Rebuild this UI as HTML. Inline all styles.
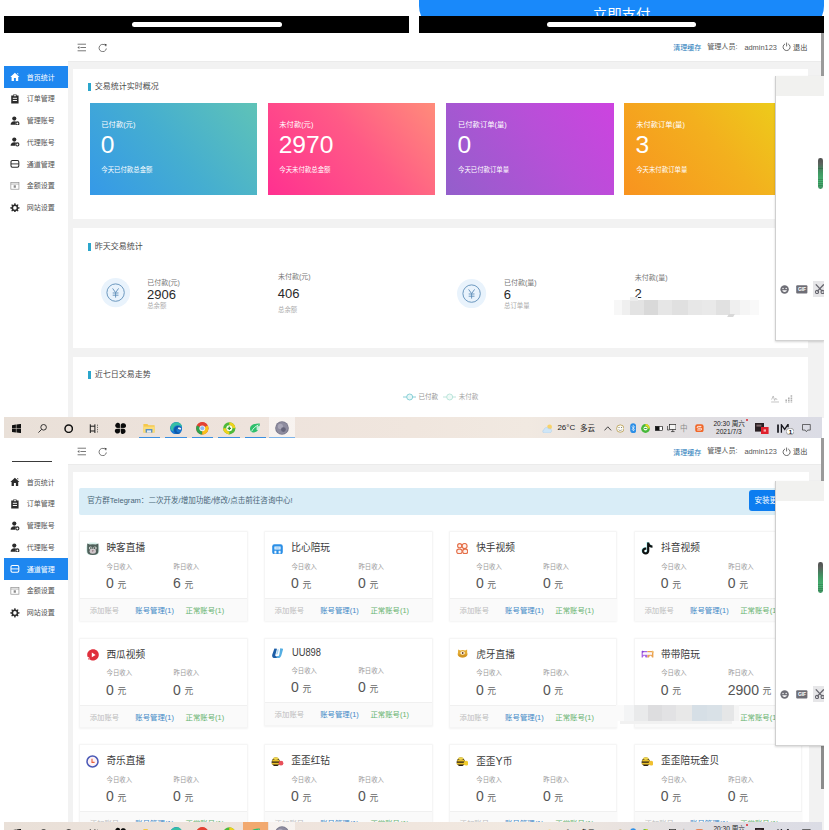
<!DOCTYPE html>
<html><head><meta charset="utf-8"><title>dashboard</title>
<style>
*{margin:0;padding:0;box-sizing:border-box}
html,body{width:829px;height:830px;overflow:hidden;background:#fff}
body{position:relative;font-family:"Liberation Sans","Noto Sans CJK SC",sans-serif;color:#333}
.a{position:absolute}
.t{position:absolute;white-space:nowrap;line-height:1}
</style></head><body>
<div class="a" style="left:419.00px;top:-10.00px;width:405.00px;height:40.00px;background:#1989fa;border-radius:0 0 24px 24px"></div>
<div class="t" style="left:592.80px;top:7.60px;font-size:14.4px;color:#fff;">立即支付</div>
<div class="a" style="left:4.00px;top:16.40px;width:405.00px;height:16.40px;background:#000;"></div>
<div class="a" style="left:419.00px;top:16.40px;width:405.00px;height:16.40px;background:#000;"></div>
<div class="a" style="left:132.00px;top:22.30px;width:150.00px;height:4.60px;background:#fff;border-radius:3px"></div>
<div class="a" style="left:547.00px;top:22.30px;width:149.00px;height:4.60px;background:#fff;border-radius:3px"></div>
<div class="a" style="left:4.00px;top:32.80px;width:820.00px;height:385.00px;background:#f2f2f2;"></div>
<div class="a" style="left:4.00px;top:32.80px;width:820.00px;height:28.80px;background:#fff;"></div>
<div class="a" style="left:68.00px;top:60.60px;width:756.00px;height:1.00px;background:#ebebeb;"></div>
<svg class="a" style="left:76.80px;top:42.70px;" width="9.4" height="9" viewBox="0 0 9.4 9"><path d="M0.6 1.2h8.4M3.4 4.5h5.6M0.6 7.8h8.4" stroke="#6a6a6a" stroke-width="0.9"/><path d="M0.4 4.5l2-1.4v2.8z" fill="#6a6a6a"/></svg>
<svg class="a" style="left:98.40px;top:42.50px;" width="9.4" height="9.4" viewBox="0 0 10 10"><path d="M8.3 3.2A3.9 3.9 0 1 0 8.9 5.8" fill="none" stroke="#6a6a6a" stroke-width="0.95"/><path d="M6.6 0.9l2.6 0.3-0.5 2.5z" fill="#444"/></svg>
<div class="t" style="left:673.20px;top:44.00px;font-size:7px;color:#2a7dbb;">清理缓存</div>
<div class="t" style="left:707.20px;top:43.70px;font-size:7.1px;color:#555;">管理人员:</div>
<div class="t" style="left:744.40px;top:43.60px;font-size:7.4px;color:#555;">admin123</div>
<svg class="a" style="left:781.60px;top:42.40px;" width="9.2" height="9.2" viewBox="0 0 10 10"><path d="M3.3 2.1A3.8 3.8 0 1 0 6.7 2.1" fill="none" stroke="#444" stroke-width="0.85"/><path d="M5 0.6v4.2" stroke="#444" stroke-width="0.85"/></svg>
<div class="t" style="left:793.00px;top:43.80px;font-size:7.2px;color:#444;">退出</div>
<div class="a" style="left:4.00px;top:61.60px;width:64.00px;height:356.00px;background:#fff;"></div>
<div class="a" style="left:4.00px;top:66.00px;width:64.00px;height:21.75px;background:#1e87f0;"></div>
<svg class="a" style="left:10.30px;top:72.20px;" width="9.8" height="9.8" viewBox="0 0 16 16"><path d="M8 1.2 L0.6 8 H2.6 V14.6 H6.4 V10 H9.6 V14.6 H13.4 V8 H15.4 Z M11.6 2 h1.8 v2.6 l-1.8 -1.6z" fill="#fff"/></svg>
<div class="t" style="left:26.80px;top:73.60px;font-size:7px;color:#fff;">首页统计</div>
<svg class="a" style="left:10.30px;top:93.95px;" width="9.8" height="9.8" viewBox="0 0 16 16"><path d="M2 2.6 H5.2 V1 H10.8 V2.6 H14 V15.4 H2 Z" fill="#2b2b2b"/><path d="M4.6 7 h6.8 M4.6 10.6 h6.8" stroke="#fff" stroke-width="1.6"/><rect x="6.2" y="2" width="3.6" height="1.6" fill="#fff"/></svg>
<div class="t" style="left:26.80px;top:95.35px;font-size:7px;color:#525252;">订单管理</div>
<svg class="a" style="left:10.30px;top:115.70px;" width="9.8" height="9.8" viewBox="0 0 16 16"><circle cx="7" cy="4.200" r="3.400" fill="#2b2b2b"/><path d="M1 14.400C1 10.400 3.400 8.400 7 8.400 8.600 8.400 9.800 8.800 10.400 9.600 8.600 10.400 8 12.400 8.800 14.400Z" fill="#2b2b2b"/><circle cx="12" cy="12.200" r="2.500" fill="none" stroke="#2b2b2b" stroke-width="1.900"/></svg>
<div class="t" style="left:26.80px;top:117.10px;font-size:7px;color:#525252;">管理账号</div>
<svg class="a" style="left:10.30px;top:137.45px;" width="9.8" height="9.8" viewBox="0 0 16 16"><circle cx="7" cy="4.200" r="3.400" fill="#2b2b2b"/><path d="M1 14.400C1 10.400 3.400 8.400 7 8.400 8.600 8.400 9.800 8.800 10.400 9.600 8.600 10.400 8 12.400 8.800 14.400Z" fill="#2b2b2b"/><circle cx="12" cy="12.200" r="2.500" fill="none" stroke="#2b2b2b" stroke-width="1.900"/></svg>
<div class="t" style="left:26.80px;top:138.85px;font-size:7px;color:#525252;">代理账号</div>
<svg class="a" style="left:10.30px;top:159.20px;" width="9.8" height="9.8" viewBox="0 0 16 16"><rect x="1.6" y="2.6" width="12.8" height="10.8" rx="2.2" fill="none" stroke="#2b2b2b" stroke-width="1.7"/><path d="M1.6 8 h12.8" stroke="#2b2b2b" stroke-width="1.5"/></svg>
<div class="t" style="left:26.80px;top:160.60px;font-size:7px;color:#525252;">通道管理</div>
<svg class="a" style="left:10.30px;top:180.95px;" width="9.8" height="9.8" viewBox="0 0 16 16"><rect x="1.4" y="2.6" width="13.2" height="10.8" fill="none" stroke="#8c8c8c" stroke-width="1.1"/><path d="M1.4 5 h13.2" stroke="#8c8c8c" stroke-width="1"/><rect x="6" y="7" width="3.6" height="4" fill="#8c8c8c"/></svg>
<div class="t" style="left:26.80px;top:182.35px;font-size:7px;color:#525252;">金额设置</div>
<svg class="a" style="left:10.30px;top:202.70px;" width="9.8" height="9.8" viewBox="0 0 16 16"><path d="M15.54 7.01 L15.54 8.99 L13.46 9.24 L12.74 10.98 L14.03 12.63 L12.63 14.03 L10.98 12.74 L9.24 13.46 L8.99 15.54 L7.01 15.54 L6.76 13.46 L5.02 12.74 L3.37 14.03 L1.97 12.63 L3.26 10.98 L2.54 9.24 L0.46 8.99 L0.46 7.01 L2.54 6.76 L3.26 5.02 L1.97 3.37 L3.37 1.97 L5.02 3.26 L6.76 2.54 L7.01 0.46 L8.99 0.46 L9.24 2.54 L10.98 3.26 L12.63 1.97 L14.03 3.37 L12.74 5.02 L13.46 6.76Z" fill="#2b2b2b"/><circle cx="8" cy="8" r="2.9" fill="#fff"/></svg>
<div class="t" style="left:26.80px;top:204.10px;font-size:7px;color:#525252;">网站设置</div>
<div class="a" style="left:73.00px;top:68.50px;width:735.00px;height:150.50px;background:#fff;"></div>
<div class="a" style="left:73.00px;top:227.50px;width:735.00px;height:120.80px;background:#fff;"></div>
<div class="a" style="left:73.00px;top:357.00px;width:735.00px;height:61.00px;background:#fff;"></div>
<div class="a" style="left:88.10px;top:82.80px;width:2.70px;height:8.00px;background:#2ba6cc;"></div>
<div class="t" style="left:94.70px;top:82.60px;font-size:8px;color:#4a4a4a;">交易统计实时概况</div>
<div class="a" style="left:88.10px;top:243.00px;width:2.70px;height:8.00px;background:#2ba6cc;"></div>
<div class="t" style="left:94.70px;top:242.80px;font-size:8px;color:#4a4a4a;">昨天交易统计</div>
<div class="a" style="left:88.10px;top:371.20px;width:2.70px;height:8.00px;background:#2ba6cc;"></div>
<div class="t" style="left:94.70px;top:371.00px;font-size:8px;color:#4a4a4a;">近七日交易走势</div>
<div class="a" style="left:89.50px;top:102.50px;width:167.50px;height:92.80px;background:linear-gradient(50deg,#3599e8 0%,#45aed0 50%,#5fc3b7 100%);"></div>
<div class="t" style="left:101.30px;top:120.80px;font-size:7.3px;color:#fff;">已付款(元)</div>
<div class="t" style="left:100.70px;top:132.90px;font-size:24.6px;color:#fff;">0</div>
<div class="t" style="left:101.30px;top:166.60px;font-size:6.4px;color:#fff;">今天已付款总金额</div>
<div class="a" style="left:267.50px;top:102.50px;width:167.50px;height:92.80px;background:linear-gradient(50deg,#ff3090 0%,#ff5a86 55%,#ff8c7a 100%);"></div>
<div class="t" style="left:279.30px;top:120.80px;font-size:7.3px;color:#fff;">未付款(元)</div>
<div class="t" style="left:278.70px;top:132.90px;font-size:24.6px;color:#fff;">2970</div>
<div class="t" style="left:279.30px;top:166.60px;font-size:6.4px;color:#fff;">今天未付款总金额</div>
<div class="a" style="left:446.20px;top:102.50px;width:167.50px;height:92.80px;background:linear-gradient(55deg,#935fcb 0%,#b84fd8 60%,#cd43e0 100%);"></div>
<div class="t" style="left:458.00px;top:120.80px;font-size:7.3px;color:#fff;">已付款订单(量)</div>
<div class="t" style="left:457.40px;top:132.90px;font-size:24.6px;color:#fff;">0</div>
<div class="t" style="left:458.00px;top:166.60px;font-size:6.4px;color:#fff;">今天已付款订单量</div>
<div class="a" style="left:624.40px;top:102.50px;width:167.50px;height:92.80px;background:linear-gradient(50deg,#f8931f 0%,#f3b01e 55%,#ecd01a 100%);"></div>
<div class="t" style="left:636.20px;top:120.80px;font-size:7.3px;color:#fff;">未付款订单(量)</div>
<div class="t" style="left:635.60px;top:132.90px;font-size:24.6px;color:#fff;">3</div>
<div class="t" style="left:636.20px;top:166.60px;font-size:6.4px;color:#fff;">今天未付款订单量</div>
<svg class="a" style="left:101.10px;top:278.40px;" width="29.2" height="29.2" viewBox="0 0 29.2 29.2"><circle cx="14.6" cy="14.6" r="14.6" fill="#e9f3fc"/><circle cx="14.6" cy="14.6" r="8.7" fill="none" stroke="#5d8db8" stroke-width="0.9"/><path d="M11.6 10.4l3 4.2 3-4.2M14.6 14.6v5M11.7 15h5.8M11.7 17.2h5.8" fill="none" stroke="#5d8db8" stroke-width="0.9"/></svg>
<div class="t" style="left:147.20px;top:279.20px;font-size:7px;color:#777;">已付款(元)</div>
<div class="t" style="left:147.00px;top:287.60px;font-size:13px;color:#2a2a2a;">2906</div>
<div class="t" style="left:147.20px;top:303.20px;font-size:6.4px;color:#aaa;">总余额</div>
<div class="t" style="left:278.00px;top:273.30px;font-size:7px;color:#777;">未付款(元)</div>
<div class="t" style="left:277.80px;top:286.80px;font-size:13px;color:#2a2a2a;">406</div>
<div class="t" style="left:278.00px;top:307.20px;font-size:6.4px;color:#aaa;">总余额</div>
<svg class="a" style="left:457.40px;top:278.60px;" width="29.2" height="29.2" viewBox="0 0 29.2 29.2"><circle cx="14.6" cy="14.6" r="14.6" fill="#e9f3fc"/><circle cx="14.6" cy="14.6" r="8.7" fill="none" stroke="#5d8db8" stroke-width="0.9"/><path d="M11.6 10.4l3 4.2 3-4.2M14.6 14.6v5M11.7 15h5.8M11.7 17.2h5.8" fill="none" stroke="#5d8db8" stroke-width="0.9"/></svg>
<div class="t" style="left:504.00px;top:279.40px;font-size:7px;color:#777;">已付款(量)</div>
<div class="t" style="left:503.80px;top:287.60px;font-size:13px;color:#2a2a2a;">6</div>
<div class="t" style="left:504.00px;top:303.00px;font-size:6.4px;color:#aaa;">总订单量</div>
<div class="t" style="left:634.80px;top:274.40px;font-size:7px;color:#777;">未付款(量)</div>
<div class="t" style="left:634.60px;top:287.20px;font-size:13px;color:#2a2a2a;">2</div>
<svg class="a" style="left:402.60px;top:393.30px;" width="13.4" height="8" viewBox="0 0 13.4 8"><path d="M0 4h13.4" stroke="#7ecbd3" stroke-width="0.9"/><circle cx="6.7" cy="4" r="3" fill="#e6f7f7" stroke="#7ecbd3" stroke-width="0.9"/></svg>
<div class="t" style="left:418.40px;top:393.90px;font-size:6.5px;color:#959595;">已付款</div>
<svg class="a" style="left:443.00px;top:393.30px;" width="13.4" height="8" viewBox="0 0 13.4 8"><path d="M0 4h13.4" stroke="#b5e2d8" stroke-width="0.9"/><circle cx="6.7" cy="4" r="3" fill="#f0faf7" stroke="#b5e2d8" stroke-width="0.9"/></svg>
<div class="t" style="left:458.80px;top:393.90px;font-size:6.5px;color:#a5a5a5;">未付款</div>
<svg class="a" style="left:770.80px;top:394.40px;" width="8.4" height="8.6" viewBox="0 0 8.4 8.6"><path d="M0.6 5.6l1.6-3.6 1.4 4.4 1.2-2.2 1.4 1.8" fill="none" stroke="#aaa" stroke-width="0.7"/><path d="M0.2 8h8" stroke="#aaa" stroke-width="0.7"/></svg>
<svg class="a" style="left:785.40px;top:394.20px;" width="8" height="8.8" viewBox="0 0 8 8.8"><path d="M1.2 8.6v-3.6M3.8 8.6v-5.6M6.4 8.6v-7.6" stroke="#b0b0b0" stroke-width="1.6" stroke-dasharray="1.2 0.5"/></svg>
<div class="a" style="left:614.00px;top:299.50px;width:8.00px;height:15.50px;background:#f7f7f7;"></div>
<div class="a" style="left:622.00px;top:299.50px;width:8.00px;height:15.50px;background:#efefef;"></div>
<div class="a" style="left:630.00px;top:299.50px;width:14.00px;height:15.50px;background:#e3e3e3;"></div>
<div class="a" style="left:644.00px;top:299.50px;width:14.00px;height:15.50px;background:#d9d9d9;"></div>
<div class="a" style="left:658.00px;top:299.50px;width:14.00px;height:15.50px;background:#e6e6e6;"></div>
<div class="a" style="left:672.00px;top:299.50px;width:16.00px;height:15.50px;background:#e0e0e0;"></div>
<div class="a" style="left:688.00px;top:299.50px;width:14.00px;height:15.50px;background:#e7e7e7;"></div>
<div class="a" style="left:702.00px;top:299.50px;width:14.00px;height:15.50px;background:#e9e9e9;"></div>
<div class="a" style="left:716.00px;top:299.50px;width:14.00px;height:15.50px;background:#e1e1e1;"></div>
<div class="a" style="left:730.00px;top:299.50px;width:10.00px;height:15.50px;background:#efefef;"></div>
<div class="a" style="left:740.00px;top:299.50px;width:10.00px;height:15.50px;background:#f5f5f5;"></div>
<div class="a" style="left:750.00px;top:299.50px;width:9.00px;height:15.50px;background:#f9f9f9;"></div>
<div class="a" style="left:630.00px;top:296.50px;width:8.00px;height:4.00px;background:#ededed;"></div>
<div class="a" style="left:728.00px;top:314.00px;width:6.00px;height:3.00px;background:#d8d8d8;transform:skewX(-30deg)"></div>
<div class="a" style="left:820.90px;top:33.00px;width:3.30px;height:43.40px;background:#9a9a9a;"></div>
<div class="a" style="left:774.50px;top:76.30px;width:49.50px;height:264.30px;background:#fff;box-shadow:-0.5px 1px 2px rgba(0,0,0,0.16);border-left:1px solid #cfcfcf;border-bottom:1px solid #d2d2d2"></div>
<div class="a" style="left:775.50px;top:76.30px;width:48.50px;height:20.00px;background:#f1f1ef;"></div>
<svg class="a" style="left:780.00px;top:284.80px;" width="9.2" height="9.2" viewBox="0 0 10 10"><circle cx="5" cy="5" r="4.6" fill="#6e6e76"/><circle cx="3.3" cy="3.8" r="0.8" fill="#fff"/><circle cx="6.7" cy="3.8" r="0.8" fill="#fff"/><path d="M2.4 5.6a2.7 2.7 0 0 0 5.2 0z" fill="#fff"/></svg>
<svg class="a" style="left:796.40px;top:285.20px;" width="11.6" height="8.6" viewBox="0 0 11.6 8.6"><rect x="0.2" y="0.2" width="11.2" height="8.2" rx="1" fill="#6e6e76"/></svg>
<div class="t" style="left:798.00px;top:286.80px;font-size:5px;color:#fff;font-weight:bold;letter-spacing:-0.2px">GIF</div>
<div class="a" style="left:812.60px;top:281.20px;width:11.40px;height:16.00px;background:#e6e6e8;"></div>
<svg class="a" style="left:814.60px;top:284.40px;" width="9.6" height="10" viewBox="0 0 9.6 10"><path d="M0.800 0.400l6.600 7M8.800 0.400l-6.600 7" stroke="#66666e" stroke-width="1.300"/><circle cx="2" cy="8" r="1.600" fill="none" stroke="#66666e" stroke-width="1.100"/><circle cx="7.600" cy="8" r="1.600" fill="none" stroke="#66666e" stroke-width="1.100"/></svg>
<div class="a" style="left:818.00px;top:157.60px;width:4.80px;height:31.00px;background:linear-gradient(#4f4f4f 0%,#5b625d 18%,#47805f 34%,#3f9a63 50%,#49b274 78%,#3d8f5e 100%);border-radius:2.4px"></div>
<div class="a" style="left:818.00px;top:167.20px;width:4.80px;height:20.00px;background:repeating-linear-gradient(rgba(255,255,255,0) 0 1.5px,rgba(20,70,40,0.28) 1.5px 2.1px);border-radius:0 0 2.4px 2.4px"></div>
<div class="a" style="left:4.00px;top:417.30px;width:818.00px;height:21.10px;background:linear-gradient(90deg,#e9e0d8 0%,#eee3dc 30%,#f0e6de 50%,#f1e9e1 64%,#eae3df 74%,#e0dee2 86%,#dbdce5 100%);"></div>
<svg class="a" style="left:12.20px;top:423.80px;" width="9" height="9" viewBox="0 0 9 9"><path d="M0 1.2l3.9-0.6v3.7h-3.9zM4.4 0.55l4.6-0.65v4.4h-4.6zM0 4.8h3.9v3.7l-3.9-0.55zM4.4 4.8h4.6v4.3l-4.6-0.65z" fill="#111"/></svg>
<svg class="a" style="left:38.40px;top:423.90px;" width="9" height="9" viewBox="0 0 9 9"><circle cx="5.6" cy="3.3" r="2.8" fill="none" stroke="#222" stroke-width="0.9"/><path d="M3.6 5.4l-3.2 3.2" stroke="#222" stroke-width="0.9"/></svg>
<svg class="a" style="left:63.60px;top:423.70px;" width="9.4" height="9.4" viewBox="0 0 9.4 9.4"><circle cx="4.7" cy="4.7" r="3.7" fill="none" stroke="#111" stroke-width="1.5"/></svg>
<svg class="a" style="left:88.60px;top:423.70px;" width="9.6" height="9.4" viewBox="0 0 9.6 9.4"><path d="M1.300 0.300v8.800M5.900 0.300v8.800M1.300 2.200h4.600M1.300 7h4.600" fill="none" stroke="#1a1a1a" stroke-width="1"/><path d="M8.700 0.600v8.400" stroke="#333" stroke-width="0.800" stroke-dasharray="1.300 0.900"/></svg>
<svg class="a" style="left:114.20px;top:421.90px;" width="12.8" height="12.8" viewBox="0 0 12.8 12.8"><g fill="#0a0a0a"><path d="M6.4 6.4C2.4 7.4 0.4 4.6 1.6 2.2 3 -0.2 7.4 0 6.400 6.400z"/><path d="M6.400 6.400C5.400 2.400 8.200 0.400 10.600 1.600 13 3 12.800 7.400 6.400 6.400z"/><path d="M6.400 6.400C10.400 5.400 12.400 8.200 11.200 10.600 9.800 13 5.400 12.800 6.400 6.400z"/><path d="M6.400 6.400C7.400 10.400 4.600 12.400 2.200 11.200 -0.200 9.800 0 5.400 6.400 6.400z"/></g><path d="M6.400 1.400v10M1.400 6.400h10" stroke="#e9e1da" stroke-width="0.700"/></svg>
<div class="a" style="left:138.60px;top:437.10px;width:21.60px;height:1.30px;background:#3b8fe0;"></div>
<div class="a" style="left:165.30px;top:437.10px;width:21.60px;height:1.30px;background:#3b8fe0;"></div>
<div class="a" style="left:191.80px;top:437.10px;width:21.60px;height:1.30px;background:#3b8fe0;"></div>
<div class="a" style="left:218.20px;top:437.10px;width:21.60px;height:1.30px;background:#3b8fe0;"></div>
<div class="a" style="left:244.80px;top:437.10px;width:21.60px;height:1.30px;background:#3b8fe0;"></div>
<svg class="a" style="left:143.20px;top:423.30px;" width="12" height="10" viewBox="0 0 12 10"><path d="M0.4 1h4l1 1.2h6.2v7.4h-11.2z" fill="#f5c84a"/><path d="M0.4 3.6h11.2v6h-11.2z" fill="#f9dc7a"/><path d="M2.6 6h6.8v3.6h-6.8z" fill="#5a8fc8"/><path d="M4 7.4h4v2.2h-4z" fill="#e8eef5"/></svg>
<svg class="a" style="left:169.80px;top:422.10px;" width="12.4" height="12.4" viewBox="0 0 12.4 12.4"><circle cx="6.2" cy="6.2" r="6.100" fill="#1877d2"/><path d="M0.300 5.200C1 1.800 4.200 -0.200 7.600 0.300 10.400 0.800 12.200 3 12.300 5.600 11 3.400 8 2.600 5.600 3.800 3.600 4.800 2.800 7 3.400 9.200 1.400 8.600 0.200 7 0.300 5.200z" fill="#36bfa4"/><path d="M6.600 4.200C9 3.600 11.200 4.800 11.600 6.600 11.800 7.800 10.600 8.600 9.200 8.200 8 7.800 7.600 6.800 8 6 6.600 6.400 6 8 6.800 9.400 7.600 10.600 9.600 11 11 10.200 9.800 11.800 7.400 12.400 5.600 11.400 3.400 10.200 3.200 5.400 6.600 4.200z" fill="#0e58a8"/><path d="M7.900 5.700C9.400 5.200 11 5.800 11.300 6.800 11.400 7.500 10.400 7.900 9.400 7.600 8.400 7.300 7.800 6.500 7.900 5.700z" fill="#f2f8fc"/></svg>
<svg class="a" style="left:196.20px;top:422.10px;" width="12.6" height="12.6" viewBox="0 0 12.600 12.600"><circle cx="6.300" cy="6.300" r="6.200" fill="#e34133"/><path d="M6.300 6.300L0.950 3.200A6.200 6.200 0 0 0 6.300 12.500z" fill="#2fa24f"/><path d="M6.300 6.300L6.300 12.500A6.200 6.200 0 0 0 11.650 3.200z" fill="#f8c11b"/><path d="M6.300 6.300L0.950 3.200A6.200 6.200 0 0 1 11.650 3.200z" fill="#e34133"/><circle cx="6.300" cy="6.300" r="2.900" fill="#f4f4f4"/><circle cx="6.300" cy="6.300" r="2" fill="#8fb8f2"/></svg>
<svg class="a" style="left:223.00px;top:422.10px;" width="12.6" height="12.6" viewBox="0 0 12.600 12.600"><circle cx="6.300" cy="6.300" r="6.100" fill="#4db93a"/><path d="M6.300 0.200a6.100 6.100 0 0 1 6.100 6.100l-3 0a3.100 3.100 0 0 0-3.100-3.100z" fill="#f0d21c"/><path d="M6.300 12.400a6.100 6.100 0 0 1-6.100-6.100l3 0a3.100 3.100 0 0 0 3.100 3.100z" fill="#f0d21c"/><circle cx="6.300" cy="6.300" r="3" fill="#fdfdf0"/><path d="M4.600 6.300h3.400M6.300 4.600v3.400" stroke="#2e9a2e" stroke-width="1.300"/></svg>
<svg class="a" style="left:248.80px;top:422.90px;" width="11.6" height="10.4" viewBox="0 0 11.600 10.400"><path d="M1 6C1 2 5 0.400 10.800 0.600 10.800 5 9 9.600 4.400 9.400 2.400 9.400 1 8 1 6z" fill="#2fbf6c"/><path d="M2.600 8.400C4 5.400 6.400 3.400 9.400 2" fill="none" stroke="#e8fff0" stroke-width="0.900"/><rect x="7.600" y="3.200" width="3.800" height="3.800" fill="#d9f2e4" opacity="0.900"/></svg>
<div class="a" style="left:269.00px;top:417.30px;width:26.00px;height:21.10px;background:rgba(255,255,255,0.550);"></div>
<div class="a" style="left:269.00px;top:437.10px;width:26.00px;height:1.30px;background:#7fb4e8;"></div>
<svg class="a" style="left:275.20px;top:421.30px;" width="14" height="14" viewBox="0 0 14 14"><circle cx="7" cy="7" r="6.800" fill="#77768a"/><circle cx="7" cy="7" r="6" fill="#8e8c9f"/><circle cx="5.400" cy="5.400" r="2.600" fill="#a9a7b8"/><circle cx="8.400" cy="8.600" r="2.400" fill="#65647a"/></svg>
<svg class="a" style="left:541.60px;top:423.50px;" width="11.6" height="9.6" viewBox="0 0 11.600 9.600"><circle cx="7.600" cy="3" r="2.400" fill="#f7d26a"/><path d="M2.600 9C0.600 9 0 6.600 2 5.800 2.200 3.400 5.400 2.800 6.600 4.800 8.800 4.200 10.200 6 9.400 7.600 9 8.600 8.200 9 7.400 9z" fill="#cfe6f7" stroke="#a9cde8" stroke-width="0.500"/></svg>
<div class="t" style="left:557.40px;top:424.40px;font-size:8px;color:#1c1c1c;">26°C</div>
<div class="t" style="left:580.00px;top:424.60px;font-size:7.5px;color:#1c1c1c;">多云</div>
<svg class="a" style="left:604.00px;top:425.70px;" width="7.6" height="5" viewBox="0 0 7.600 5"><path d="M0.500 4.400l3.300-3.600 3.300 3.600" fill="none" stroke="#333" stroke-width="0.900"/></svg>
<svg class="a" style="left:615.80px;top:423.70px;" width="8.6" height="9.2" viewBox="0 0 8.600 9.200"><circle cx="4.300" cy="4.600" r="3.700" fill="#fcfcf6" stroke="#b89a4a" stroke-width="0.800"/><path d="M2.600 5.400a1.800 1.800 0 0 0 3.400 0" fill="none" stroke="#777" stroke-width="0.600"/><circle cx="3" cy="3.600" r="0.500" fill="#555"/><circle cx="5.600" cy="3.600" r="0.500" fill="#555"/></svg>
<svg class="a" style="left:629.80px;top:423.10px;" width="6.4" height="10.4" viewBox="0 0 6.400 10.400"><rect x="0.200" y="0.200" width="6" height="10" rx="3" fill="#2d8fe6"/><path d="M1.800 3.400l2.800 3.200-1.400 1.400v-5.600l1.400 1.400-2.800 3.200" fill="none" stroke="#fff" stroke-width="0.600"/></svg>
<svg class="a" style="left:641.20px;top:423.80px;" width="9" height="9" viewBox="0 0 9 9"><circle cx="4.500" cy="4.500" r="4.400" fill="#46b83a"/><path d="M4.500 0.100a4.400 4.400 0 0 1 4.400 4.400h-2a2.400 2.400 0 0 0-2.400-2.400z" fill="#e8d820"/><circle cx="4.500" cy="4.500" r="2" fill="#f4fbe8"/><path d="M3.400 4.500h2.200" stroke="#2e9a2e" stroke-width="1"/></svg>
<svg class="a" style="left:655.00px;top:426.10px;" width="8.4" height="4.8" viewBox="0 0 8.400 4.800"><rect x="0.300" y="0.300" width="7.200" height="4.200" fill="#fff" stroke="#111" stroke-width="0.600"/><rect x="0.300" y="0.300" width="4.200" height="4.200" fill="#111"/><rect x="7.600" y="1.400" width="0.800" height="2" fill="#111"/></svg>
<svg class="a" style="left:666.60px;top:424.30px;" width="9.4" height="8.4" viewBox="0 0 9.400 8.400"><rect x="2.400" y="0.400" width="6.600" height="5" fill="#f4f4f4" stroke="#222" stroke-width="0.700"/><path d="M4 7.600h3.600M5.800 5.400v2.200M0.400 2v4h2" fill="none" stroke="#222" stroke-width="0.700"/></svg>
<div class="t" style="left:680.00px;top:424.60px;font-size:7.5px;color:#8a8a8a;">中</div>
<svg class="a" style="left:694.80px;top:424.10px;" width="8.8" height="8.4" viewBox="0 0 8.800 8.400"><rect x="0.200" y="0.200" width="8.400" height="8" rx="2.200" fill="#f0672a"/><path d="M6.400 2.400h-3.200q-1 0-1 0.900t1 0.900h2.400q1 0 1 0.900t-1 0.900h-3.400" fill="none" stroke="#fff" stroke-width="0.900"/></svg>
<div class="t" style="left:713.40px;top:421.10px;font-size:6.6px;color:#1c1c1c;">20:30 周六</div>
<div class="t" style="left:716.00px;top:428.70px;font-size:6.6px;color:#1c1c1c;">2021/7/3</div>
<div class="a" style="left:746.00px;top:419.10px;width:2.00px;height:2.00px;background:#e0242c;border-radius:50%"></div>
<svg class="a" style="left:755.00px;top:423.30px;" width="13.6" height="11" viewBox="0 0 13.600 11"><rect x="0" y="0" width="9" height="8.600" fill="#2a2024"/><rect x="1.400" y="1.600" width="5" height="2" fill="#7a6468"/><rect x="6" y="4" width="7.600" height="7" fill="#e0202c"/><rect x="8.600" y="6.400" width="2.400" height="2.200" fill="#f7b0b0"/></svg>
<svg class="a" style="left:777.40px;top:423.70px;" width="15" height="9.4" viewBox="0 0 15 9.4"><path d="M1 0.600v8.200" stroke="#15151c" stroke-width="1.700"/><path d="M4.400 8.800v-8l3.300 4.600 3.400-5.200v3" fill="none" stroke="#15151c" stroke-width="1.300"/></svg>
<svg class="a" style="left:786.00px;top:427.90px;" width="8.2" height="7" viewBox="0 0 8.200 7"><ellipse cx="4.100" cy="3.500" rx="3.900" ry="3.300" fill="#fff" stroke="#555" stroke-width="0.500"/></svg>
<div class="t" style="left:788.70px;top:428.60px;font-size:6px;color:#111;font-weight:bold">1</div>
<svg class="a" style="left:802.40px;top:424.30px;" width="8.8" height="8.4" viewBox="0 0 8.800 8.400"><path d="M0.500 0.500h7.800v5.600h-2.600l-1.300 1.600-1.300-1.600h-2.600z" fill="none" stroke="#333" stroke-width="0.700"/></svg>
<div class="a" style="left:4.00px;top:438.40px;width:820.00px;height:392.00px;background:#f2f2f2;"></div>
<div class="a" style="left:4.00px;top:438.40px;width:820.00px;height:26.60px;background:#fff;"></div>
<div class="a" style="left:68.00px;top:464.00px;width:756.00px;height:1.00px;background:#ebebeb;"></div>
<svg class="a" style="left:76.80px;top:447.20px;" width="9.4" height="9" viewBox="0 0 9.4 9"><path d="M0.6 1.2h8.4M3.4 4.5h5.6M0.6 7.8h8.4" stroke="#6a6a6a" stroke-width="0.9"/><path d="M0.4 4.5l2-1.4v2.8z" fill="#6a6a6a"/></svg>
<svg class="a" style="left:98.40px;top:447.00px;" width="9.4" height="9.4" viewBox="0 0 10 10"><path d="M8.3 3.2A3.9 3.9 0 1 0 8.9 5.8" fill="none" stroke="#6a6a6a" stroke-width="0.95"/><path d="M6.6 0.9l2.6 0.3-0.5 2.5z" fill="#444"/></svg>
<div class="t" style="left:673.20px;top:448.50px;font-size:7px;color:#2a7dbb;">清理缓存</div>
<div class="t" style="left:707.20px;top:448.20px;font-size:7.1px;color:#555;">管理人员:</div>
<div class="t" style="left:744.40px;top:448.10px;font-size:7.4px;color:#555;">admin123</div>
<svg class="a" style="left:781.60px;top:446.90px;" width="9.2" height="9.2" viewBox="0 0 10 10"><path d="M3.3 2.1A3.8 3.8 0 1 0 6.7 2.1" fill="none" stroke="#444" stroke-width="0.85"/><path d="M5 0.6v4.2" stroke="#444" stroke-width="0.85"/></svg>
<div class="t" style="left:793.00px;top:448.30px;font-size:7.2px;color:#444;">退出</div>
<div class="a" style="left:4.00px;top:465.00px;width:64.00px;height:366.00px;background:#fff;"></div>
<div class="a" style="left:11.80px;top:460.60px;width:40.60px;height:1.40px;background:#3a3a3a;"></div>
<svg class="a" style="left:10.30px;top:477.30px;" width="9.8" height="9.8" viewBox="0 0 16 16"><path d="M8 1.2 L0.6 8 H2.6 V14.6 H6.4 V10 H9.6 V14.6 H13.4 V8 H15.4 Z M11.6 2 h1.8 v2.6 l-1.8 -1.6z" fill="#2b2b2b"/></svg>
<div class="t" style="left:26.80px;top:478.70px;font-size:7px;color:#525252;">首页统计</div>
<svg class="a" style="left:10.30px;top:499.05px;" width="9.8" height="9.8" viewBox="0 0 16 16"><path d="M2 2.6 H5.2 V1 H10.8 V2.6 H14 V15.4 H2 Z" fill="#2b2b2b"/><path d="M4.6 7 h6.8 M4.6 10.6 h6.8" stroke="#fff" stroke-width="1.6"/><rect x="6.2" y="2" width="3.6" height="1.6" fill="#fff"/></svg>
<div class="t" style="left:26.80px;top:500.45px;font-size:7px;color:#525252;">订单管理</div>
<svg class="a" style="left:10.30px;top:520.80px;" width="9.8" height="9.8" viewBox="0 0 16 16"><circle cx="7" cy="4.200" r="3.400" fill="#2b2b2b"/><path d="M1 14.400C1 10.400 3.400 8.400 7 8.400 8.600 8.400 9.800 8.800 10.400 9.600 8.600 10.400 8 12.400 8.800 14.400Z" fill="#2b2b2b"/><circle cx="12" cy="12.200" r="2.500" fill="none" stroke="#2b2b2b" stroke-width="1.900"/></svg>
<div class="t" style="left:26.80px;top:522.20px;font-size:7px;color:#525252;">管理账号</div>
<svg class="a" style="left:10.30px;top:542.55px;" width="9.8" height="9.8" viewBox="0 0 16 16"><circle cx="7" cy="4.200" r="3.400" fill="#2b2b2b"/><path d="M1 14.400C1 10.400 3.400 8.400 7 8.400 8.600 8.400 9.800 8.800 10.400 9.600 8.600 10.400 8 12.400 8.800 14.400Z" fill="#2b2b2b"/><circle cx="12" cy="12.200" r="2.500" fill="none" stroke="#2b2b2b" stroke-width="1.900"/></svg>
<div class="t" style="left:26.80px;top:543.95px;font-size:7px;color:#525252;">代理账号</div>
<div class="a" style="left:4.00px;top:558.10px;width:64.00px;height:21.75px;background:#1e87f0;"></div>
<svg class="a" style="left:10.30px;top:564.30px;" width="9.8" height="9.8" viewBox="0 0 16 16"><rect x="1.6" y="2.6" width="12.8" height="10.8" rx="2.2" fill="none" stroke="#fff" stroke-width="1.7"/><path d="M1.6 8 h12.8" stroke="#fff" stroke-width="1.5"/></svg>
<div class="t" style="left:26.80px;top:565.70px;font-size:7px;color:#fff;">通道管理</div>
<svg class="a" style="left:10.30px;top:586.05px;" width="9.8" height="9.8" viewBox="0 0 16 16"><rect x="1.4" y="2.6" width="13.2" height="10.8" fill="none" stroke="#8c8c8c" stroke-width="1.1"/><path d="M1.4 5 h13.2" stroke="#8c8c8c" stroke-width="1"/><rect x="6" y="7" width="3.6" height="4" fill="#8c8c8c"/></svg>
<div class="t" style="left:26.80px;top:587.45px;font-size:7px;color:#525252;">金额设置</div>
<svg class="a" style="left:10.30px;top:607.80px;" width="9.8" height="9.8" viewBox="0 0 16 16"><path d="M15.54 7.01 L15.54 8.99 L13.46 9.24 L12.74 10.98 L14.03 12.63 L12.63 14.03 L10.98 12.74 L9.24 13.46 L8.99 15.54 L7.01 15.54 L6.76 13.46 L5.02 12.74 L3.37 14.03 L1.97 12.63 L3.26 10.98 L2.54 9.24 L0.46 8.99 L0.46 7.01 L2.54 6.76 L3.26 5.02 L1.97 3.37 L3.37 1.97 L5.02 3.26 L6.76 2.54 L7.01 0.46 L8.99 0.46 L9.24 2.54 L10.98 3.26 L12.63 1.97 L14.03 3.37 L12.74 5.02 L13.46 6.76Z" fill="#2b2b2b"/><circle cx="8" cy="8" r="2.9" fill="#fff"/></svg>
<div class="t" style="left:26.80px;top:609.20px;font-size:7px;color:#525252;">网站设置</div>
<div class="a" style="left:73.00px;top:472.20px;width:735.60px;height:360.00px;background:#fff;"></div>
<div class="a" style="left:78.80px;top:487.60px;width:724.40px;height:27.00px;background:#d9edf7;border-radius:2px"></div>
<div class="t" style="left:87.20px;top:497.00px;font-size:7.55px;color:#4a6678;">官方群Telegram：二次开发/增加功能/修改/点击前往咨询中心!</div>
<div class="a" style="left:749.00px;top:489.60px;width:52.00px;height:21.80px;background:#0d7df0;border-radius:3px"></div>
<div class="t" style="left:754.40px;top:496.60px;font-size:7.5px;color:#fff;">安装更新</div>
<div class="a" style="left:79.30px;top:531.20px;width:168.40px;height:90.20px;background:#fff;border:1px solid #f5f5f5;box-shadow:0 0.5px 2px rgba(0,0,0,0.05);border-radius:1px"></div>
<div class="a" style="left:79.90px;top:598.00px;width:167.20px;height:22.80px;background:#fafafa;border-top:1px solid #f0f0f0"></div>
<svg class="a" style="left:86.30px;top:541.50px;" width="13.6" height="13.6" viewBox="0 0 13.6 13.6"><rect x="0.200" y="0.600" width="13.200" height="12.800" rx="4.600" fill="#a6ddd0" opacity="0.450"/><path d="M1.200 1.400l2.600 1.200q3-0.700 6 0l2.600-1.200v7.800q0 3.800-5.600 3.800t-5.600-3.800z" fill="#4f605a"/><ellipse cx="6.800" cy="9.300" rx="3.200" ry="2.500" fill="#cfc6ca"/><ellipse cx="4.600" cy="5.900" rx="1.700" ry="1.500" fill="#d9dedb"/><ellipse cx="9" cy="5.900" rx="1.700" ry="1.500" fill="#d9dedb"/><circle cx="4.900" cy="6.100" r="0.800" fill="#2a3330"/><circle cx="8.700" cy="6.100" r="0.800" fill="#2a3330"/><path d="M5.800 8.600h2l-1 1.200z" fill="#6a4a50"/></svg>
<div class="t" style="left:106.40px;top:542.90px;font-size:9.7px;color:#3a3a3a;">映客直播</div>
<div class="t" style="left:106.50px;top:563.70px;font-size:6.4px;color:#999;">今日收入</div>
<div class="t" style="left:173.50px;top:563.70px;font-size:6.4px;color:#999;">昨日收入</div>
<div class="t" style="left:106.10px;top:575.80px;font-size:14px;color:#555;">0</div>
<div class="t" style="left:117.49px;top:580.60px;font-size:8.8px;color:#666;">元</div>
<div class="t" style="left:173.10px;top:575.80px;font-size:14px;color:#555;">6</div>
<div class="t" style="left:184.49px;top:580.60px;font-size:8.8px;color:#666;">元</div>
<div class="t" style="left:89.70px;top:607.00px;font-size:7.4px;color:#bdbdbd;">添加账号</div>
<div class="t" style="left:135.30px;top:607.00px;font-size:7.4px;color:#4289c6;">账号管理(1)</div>
<div class="t" style="left:185.50px;top:607.00px;font-size:7.4px;color:#68b370;">正常账号(1)</div>
<div class="a" style="left:264.20px;top:531.20px;width:168.40px;height:90.20px;background:#fff;border:1px solid #f5f5f5;box-shadow:0 0.5px 2px rgba(0,0,0,0.05);border-radius:1px"></div>
<div class="a" style="left:264.80px;top:598.00px;width:167.20px;height:22.80px;background:#fafafa;border-top:1px solid #f0f0f0"></div>
<svg class="a" style="left:271.80px;top:543.60px;" width="11" height="10.6" viewBox="0 0 11 10.600"><rect x="0.200" y="0.200" width="10.600" height="10" rx="2.200" fill="#2b8fe6"/><path d="M2.400 2.600h6.200v3h-6.200zM2.400 6.800h2v2.600h-2zM6.600 6.800h2v2.600h-2z" fill="#fff" opacity="0.950"/><rect x="3.400" y="3.400" width="4.200" height="1.200" fill="#8cc4f2"/></svg>
<div class="t" style="left:291.30px;top:542.90px;font-size:9.7px;color:#3a3a3a;">比心陪玩</div>
<div class="t" style="left:291.40px;top:563.70px;font-size:6.4px;color:#999;">今日收入</div>
<div class="t" style="left:358.40px;top:563.70px;font-size:6.4px;color:#999;">昨日收入</div>
<div class="t" style="left:291.00px;top:575.80px;font-size:14px;color:#555;">0</div>
<div class="t" style="left:302.39px;top:580.60px;font-size:8.8px;color:#666;">元</div>
<div class="t" style="left:358.00px;top:575.80px;font-size:14px;color:#555;">0</div>
<div class="t" style="left:369.39px;top:580.60px;font-size:8.8px;color:#666;">元</div>
<div class="t" style="left:274.60px;top:607.00px;font-size:7.4px;color:#bdbdbd;">添加账号</div>
<div class="t" style="left:320.20px;top:607.00px;font-size:7.4px;color:#4289c6;">账号管理(1)</div>
<div class="t" style="left:370.40px;top:607.00px;font-size:7.4px;color:#68b370;">正常账号(1)</div>
<div class="a" style="left:449.10px;top:531.20px;width:168.40px;height:90.20px;background:#fff;border:1px solid #f5f5f5;box-shadow:0 0.5px 2px rgba(0,0,0,0.05);border-radius:1px"></div>
<div class="a" style="left:449.70px;top:598.00px;width:167.20px;height:22.80px;background:#fafafa;border-top:1px solid #f0f0f0"></div>
<svg class="a" style="left:455.90px;top:543.00px;" width="12.4" height="11.4" viewBox="0 0 12.400 11.400"><g fill="#fdf1ec" stroke="#e56f48" stroke-width="1.150"><circle cx="3.700" cy="2.700" r="2.100"/><circle cx="8.600" cy="3" r="2.500"/><rect x="0.700" y="6.200" width="5.400" height="4.500" rx="2.100"/><rect x="6.700" y="6.200" width="5" height="4.500" rx="2.100"/></g></svg>
<div class="t" style="left:476.20px;top:542.90px;font-size:9.7px;color:#3a3a3a;">快手视频</div>
<div class="t" style="left:476.30px;top:563.70px;font-size:6.4px;color:#999;">今日收入</div>
<div class="t" style="left:543.30px;top:563.70px;font-size:6.4px;color:#999;">昨日收入</div>
<div class="t" style="left:475.90px;top:575.80px;font-size:14px;color:#555;">0</div>
<div class="t" style="left:487.29px;top:580.60px;font-size:8.8px;color:#666;">元</div>
<div class="t" style="left:542.90px;top:575.80px;font-size:14px;color:#555;">0</div>
<div class="t" style="left:554.29px;top:580.60px;font-size:8.8px;color:#666;">元</div>
<div class="t" style="left:459.50px;top:607.00px;font-size:7.4px;color:#bdbdbd;">添加账号</div>
<div class="t" style="left:505.10px;top:607.00px;font-size:7.4px;color:#4289c6;">账号管理(1)</div>
<div class="t" style="left:555.30px;top:607.00px;font-size:7.4px;color:#68b370;">正常账号(1)</div>
<div class="a" style="left:634.00px;top:531.20px;width:168.40px;height:90.20px;background:#fff;border:1px solid #f5f5f5;box-shadow:0 0.5px 2px rgba(0,0,0,0.05);border-radius:1px"></div>
<div class="a" style="left:634.60px;top:598.00px;width:167.20px;height:22.80px;background:#fafafa;border-top:1px solid #f0f0f0"></div>
<svg class="a" style="left:640.80px;top:542.30px;" width="12.2" height="12.6" viewBox="0 0 12.200 12.600"><path d="M6.100 0.400h2.200c0.200 1.800 1.400 3 3.200 3.200v2.200c-1.200 0-2.300-0.400-3.200-1v4.200c0 2-1.600 3.400-3.600 3.400s-3.700-1.500-3.700-3.500 1.900-3.700 4.300-3.300v2.300c-1-0.300-2 0.200-2 1.100 0 0.800 0.600 1.300 1.400 1.300s1.400-0.600 1.400-1.500z" fill="#8ff0f0" transform="translate(-0.500,-0.300)"/><path d="M6.100 0.400h2.200c0.200 1.800 1.400 3 3.200 3.200v2.200c-1.200 0-2.300-0.400-3.200-1v4.200c0 2-1.600 3.400-3.600 3.400s-3.700-1.500-3.700-3.500 1.900-3.700 4.300-3.300v2.300c-1-0.300-2 0.200-2 1.100 0 0.800 0.600 1.300 1.400 1.300s1.400-0.600 1.400-1.500z" fill="#111"/></svg>
<div class="t" style="left:661.10px;top:542.90px;font-size:9.7px;color:#3a3a3a;">抖音视频</div>
<div class="t" style="left:661.20px;top:563.70px;font-size:6.4px;color:#999;">今日收入</div>
<div class="t" style="left:728.20px;top:563.70px;font-size:6.4px;color:#999;">昨日收入</div>
<div class="t" style="left:660.80px;top:575.80px;font-size:14px;color:#555;">0</div>
<div class="t" style="left:672.19px;top:580.60px;font-size:8.8px;color:#666;">元</div>
<div class="t" style="left:727.80px;top:575.80px;font-size:14px;color:#555;">0</div>
<div class="t" style="left:739.19px;top:580.60px;font-size:8.8px;color:#666;">元</div>
<div class="t" style="left:644.40px;top:607.00px;font-size:7.4px;color:#bdbdbd;">添加账号</div>
<div class="t" style="left:690.00px;top:607.00px;font-size:7.4px;color:#4289c6;">账号管理(1)</div>
<div class="t" style="left:740.20px;top:607.00px;font-size:7.4px;color:#68b370;">正常账号(1)</div>
<div class="a" style="left:79.30px;top:637.90px;width:168.40px;height:90.20px;background:#fff;border:1px solid #f5f5f5;box-shadow:0 0.5px 2px rgba(0,0,0,0.05);border-radius:1px"></div>
<div class="a" style="left:79.90px;top:704.70px;width:167.20px;height:22.80px;background:#fafafa;border-top:1px solid #f0f0f0"></div>
<svg class="a" style="left:86.50px;top:648.90px;" width="12" height="12" viewBox="0 0 12 12"><path d="M6.200 0.300c3.200 0 5.600 2.400 5.600 5.500s-2.500 5.800-5.800 5.800c-1.500 0-2.500-0.500-3-1.100-0.100-1.200-1-2.200-2.300-2.400-0.400-0.800-0.500-1.500-0.500-2.300 0-3.100 2.700-5.500 6-5.500z" fill="#df2f3c"/><path d="M4.800 3.600l3.800 2.300-3.800 2.300z" fill="#fff"/><circle cx="2" cy="9.800" r="0.900" fill="#e8525c"/></svg>
<div class="t" style="left:106.40px;top:649.60px;font-size:9.7px;color:#3a3a3a;">西瓜视频</div>
<div class="t" style="left:106.50px;top:670.40px;font-size:6.4px;color:#999;">今日收入</div>
<div class="t" style="left:173.50px;top:670.40px;font-size:6.4px;color:#999;">昨日收入</div>
<div class="t" style="left:106.10px;top:682.50px;font-size:14px;color:#555;">0</div>
<div class="t" style="left:117.49px;top:687.30px;font-size:8.8px;color:#666;">元</div>
<div class="t" style="left:173.10px;top:682.50px;font-size:14px;color:#555;">0</div>
<div class="t" style="left:184.49px;top:687.30px;font-size:8.8px;color:#666;">元</div>
<div class="t" style="left:89.70px;top:713.70px;font-size:7.4px;color:#bdbdbd;">添加账号</div>
<div class="t" style="left:135.30px;top:713.70px;font-size:7.4px;color:#4289c6;">账号管理(1)</div>
<div class="t" style="left:185.50px;top:713.70px;font-size:7.4px;color:#68b370;">正常账号(1)</div>
<div class="a" style="left:264.20px;top:637.90px;width:168.40px;height:87.80px;background:#fff;border:1px solid #f5f5f5;box-shadow:0 0.5px 2px rgba(0,0,0,0.05);border-radius:1px"></div>
<div class="a" style="left:264.80px;top:702.30px;width:167.20px;height:22.80px;background:#fafafa;border-top:1px solid #f0f0f0"></div>
<svg class="a" style="left:271.60px;top:647.80px;" width="11.6" height="10.4" viewBox="0 0 11.6 10.4"><path d="M2.400 0.600l2.600 0.200-1.700 6.200c-0.200 0.900 0.300 1.400 1.200 1.400h2.400l-0.600 1.800h-3c-2.400 0-3.600-1.400-3-3.600z" fill="#1c5da6"/><path d="M8.200 0.300l3 0.500-1.800 6.400c-0.600 2-1.800 3-3.800 3h-1.200l0.600-1.900c1.400 0 2-0.400 2.300-1.500z" fill="#55aee2"/><path d="M5.300 1.400l1.700-0.200-1.300 5-1.600 0.200z" fill="#9ad0f0" opacity="0.800"/></svg>
<div class="t" style="left:291.80px;top:648.00px;font-size:10px;color:#3a3a3a;transform:scaleX(0.93);transform-origin:left">UU898</div>
<div class="t" style="left:291.40px;top:668.00px;font-size:6.4px;color:#999;">今日收入</div>
<div class="t" style="left:358.40px;top:668.00px;font-size:6.4px;color:#999;">昨日收入</div>
<div class="t" style="left:291.00px;top:680.10px;font-size:14px;color:#555;">0</div>
<div class="t" style="left:302.39px;top:684.90px;font-size:8.8px;color:#666;">元</div>
<div class="t" style="left:358.00px;top:680.10px;font-size:14px;color:#555;">0</div>
<div class="t" style="left:369.39px;top:684.90px;font-size:8.8px;color:#666;">元</div>
<div class="t" style="left:274.60px;top:711.30px;font-size:7.4px;color:#bdbdbd;">添加账号</div>
<div class="t" style="left:320.20px;top:711.30px;font-size:7.4px;color:#4289c6;">账号管理(1)</div>
<div class="t" style="left:370.40px;top:711.30px;font-size:7.4px;color:#68b370;">正常账号(1)</div>
<div class="a" style="left:449.10px;top:637.90px;width:168.40px;height:90.20px;background:#fff;border:1px solid #f5f5f5;box-shadow:0 0.5px 2px rgba(0,0,0,0.05);border-radius:1px"></div>
<div class="a" style="left:449.70px;top:704.70px;width:167.20px;height:22.80px;background:#fafafa;border-top:1px solid #f0f0f0"></div>
<svg class="a" style="left:456.70px;top:648.10px;" width="11.2" height="10" viewBox="0 0 11.200 10"><path d="M1.200 1.400l2 1.200c1.600-0.800 3.400-0.800 5 0l1.900-1.200 0.100 3.400c1.200 2.800-0.800 4.800-4.600 4.800s-5.800-2-4.600-4.800z" fill="#e3ab34"/><path d="M1 6.600c0.400 1.800 2 3 4.600 3s4.200-1.200 4.600-3z" fill="#c98a1e" opacity="0.700"/><ellipse cx="5.600" cy="5" rx="2.300" ry="1.800" fill="#fdf7e6"/><circle cx="5.700" cy="5" r="0.900" fill="#6a3a1a"/></svg>
<div class="t" style="left:476.20px;top:649.60px;font-size:9.7px;color:#3a3a3a;">虎牙直播</div>
<div class="t" style="left:476.30px;top:670.40px;font-size:6.4px;color:#999;">今日收入</div>
<div class="t" style="left:543.30px;top:670.40px;font-size:6.4px;color:#999;">昨日收入</div>
<div class="t" style="left:475.90px;top:682.50px;font-size:14px;color:#555;">0</div>
<div class="t" style="left:487.29px;top:687.30px;font-size:8.8px;color:#666;">元</div>
<div class="t" style="left:542.90px;top:682.50px;font-size:14px;color:#555;">0</div>
<div class="t" style="left:554.29px;top:687.30px;font-size:8.8px;color:#666;">元</div>
<div class="t" style="left:459.50px;top:713.70px;font-size:7.4px;color:#bdbdbd;">添加账号</div>
<div class="t" style="left:505.10px;top:713.70px;font-size:7.4px;color:#4289c6;">账号管理(1)</div>
<div class="t" style="left:555.30px;top:713.70px;font-size:7.4px;color:#68b370;">正常账号(1)</div>
<div class="a" style="left:634.00px;top:637.90px;width:168.40px;height:90.20px;background:#fff;border:1px solid #f5f5f5;box-shadow:0 0.5px 2px rgba(0,0,0,0.05);border-radius:1px"></div>
<div class="a" style="left:634.60px;top:704.70px;width:167.20px;height:22.80px;background:#fafafa;border-top:1px solid #f0f0f0"></div>
<svg class="a" style="left:640.80px;top:650.40px;" width="13" height="8" viewBox="0 0 13 8"><path d="M0.600 1h5.800v6.400h-1.800l-0.800-1.600h-1.200l-0.800 1.600h-1.200z" fill="#a964e4"/><path d="M6.400 1h6v6.400h-1.400l-0.800-1.600h-1.400l-0.800 1.600h-1.600z" fill="#e9a252"/><path d="M1.800 2.200h9.200v2.600h-9.200z" fill="#fbf5fb"/><path d="M1.200 0.400l2 1.400-2 1.200z" fill="#7d3fd0"/><path d="M11.600 0.300l1.200 2.700-2.200-0.400z" fill="#f2c06a"/></svg>
<div class="t" style="left:661.10px;top:649.60px;font-size:9.7px;color:#3a3a3a;">带带陪玩</div>
<div class="t" style="left:661.20px;top:670.40px;font-size:6.4px;color:#999;">今日收入</div>
<div class="t" style="left:728.20px;top:670.40px;font-size:6.4px;color:#999;">昨日收入</div>
<div class="t" style="left:660.80px;top:682.50px;font-size:14px;color:#555;">0</div>
<div class="t" style="left:672.19px;top:687.30px;font-size:8.8px;color:#666;">元</div>
<div class="t" style="left:727.80px;top:682.50px;font-size:14px;color:#555;">2900</div>
<div class="t" style="left:762.54px;top:687.30px;font-size:8.8px;color:#666;">元</div>
<div class="t" style="left:644.40px;top:713.70px;font-size:7.4px;color:#bdbdbd;">添加账号</div>
<div class="t" style="left:690.00px;top:713.70px;font-size:7.4px;color:#4289c6;">账号管理(1)</div>
<div class="t" style="left:740.20px;top:713.70px;font-size:7.4px;color:#68b370;">正常账号(1)</div>
<div class="a" style="left:79.30px;top:744.30px;width:168.40px;height:90.20px;background:#fff;border:1px solid #f5f5f5;box-shadow:0 0.5px 2px rgba(0,0,0,0.05);border-radius:1px"></div>
<div class="a" style="left:79.90px;top:811.10px;width:167.20px;height:22.80px;background:#fafafa;border-top:1px solid #f0f0f0"></div>
<svg class="a" style="left:86.10px;top:755.00px;" width="13" height="13" viewBox="0 0 13 13"><circle cx="6.500" cy="6.500" r="5.500" fill="#fdf2f6" stroke="#4a59b6" stroke-width="1.500"/><path d="M6 3.800v3.600h2.600" fill="none" stroke="#e8603a" stroke-width="1.100"/></svg>
<div class="t" style="left:106.40px;top:756.00px;font-size:9.7px;color:#3a3a3a;">奇乐直播</div>
<div class="t" style="left:106.50px;top:776.80px;font-size:6.4px;color:#999;">今日收入</div>
<div class="t" style="left:173.50px;top:776.80px;font-size:6.4px;color:#999;">昨日收入</div>
<div class="t" style="left:106.10px;top:788.90px;font-size:14px;color:#555;">0</div>
<div class="t" style="left:117.49px;top:793.70px;font-size:8.8px;color:#666;">元</div>
<div class="t" style="left:173.10px;top:788.90px;font-size:14px;color:#555;">0</div>
<div class="t" style="left:184.49px;top:793.70px;font-size:8.8px;color:#666;">元</div>
<div class="t" style="left:89.70px;top:820.10px;font-size:7.4px;color:#bdbdbd;">添加账号</div>
<div class="t" style="left:135.30px;top:820.10px;font-size:7.4px;color:#4289c6;">账号管理(1)</div>
<div class="t" style="left:185.50px;top:820.10px;font-size:7.4px;color:#68b370;">正常账号(1)</div>
<div class="a" style="left:264.20px;top:744.30px;width:168.40px;height:90.20px;background:#fff;border:1px solid #f5f5f5;box-shadow:0 0.5px 2px rgba(0,0,0,0.05);border-radius:1px"></div>
<div class="a" style="left:264.80px;top:811.10px;width:167.20px;height:22.80px;background:#fafafa;border-top:1px solid #f0f0f0"></div>
<svg class="a" style="left:270.80px;top:756.50px;" width="12.8" height="9.6" viewBox="0 0 12.800 9.600"><ellipse cx="4.800" cy="5" rx="4.200" ry="4.400" fill="#2a2014"/><path d="M1.200 2.800h7.200v1.600h-7.200zM0.800 5.800h8v1.600h-8z" fill="#e8c02c"/><ellipse cx="4.800" cy="1.600" rx="2.800" ry="1.300" fill="#f2d648"/><circle cx="10" cy="6.200" r="2.400" fill="#e8505a"/></svg>
<div class="t" style="left:291.30px;top:756.00px;font-size:9.7px;color:#3a3a3a;">歪歪红钻</div>
<div class="t" style="left:291.40px;top:776.80px;font-size:6.4px;color:#999;">今日收入</div>
<div class="t" style="left:358.40px;top:776.80px;font-size:6.4px;color:#999;">昨日收入</div>
<div class="t" style="left:291.00px;top:788.90px;font-size:14px;color:#555;">0</div>
<div class="t" style="left:302.39px;top:793.70px;font-size:8.8px;color:#666;">元</div>
<div class="t" style="left:358.00px;top:788.90px;font-size:14px;color:#555;">0</div>
<div class="t" style="left:369.39px;top:793.70px;font-size:8.8px;color:#666;">元</div>
<div class="t" style="left:274.60px;top:820.10px;font-size:7.4px;color:#bdbdbd;">添加账号</div>
<div class="t" style="left:320.20px;top:820.10px;font-size:7.4px;color:#4289c6;">账号管理(1)</div>
<div class="t" style="left:370.40px;top:820.10px;font-size:7.4px;color:#68b370;">正常账号(1)</div>
<div class="a" style="left:449.10px;top:744.30px;width:168.40px;height:90.20px;background:#fff;border:1px solid #f5f5f5;box-shadow:0 0.5px 2px rgba(0,0,0,0.05);border-radius:1px"></div>
<div class="a" style="left:449.70px;top:811.10px;width:167.20px;height:22.80px;background:#fafafa;border-top:1px solid #f0f0f0"></div>
<svg class="a" style="left:455.70px;top:756.50px;" width="12.8" height="9.6" viewBox="0 0 12.800 9.600"><ellipse cx="4.800" cy="5" rx="4.200" ry="4.400" fill="#2a2014"/><path d="M1.200 2.800h7.200v1.600h-7.200zM0.800 5.800h8v1.600h-8z" fill="#e8c02c"/><ellipse cx="4.800" cy="1.600" rx="2.800" ry="1.300" fill="#f2d648"/><circle cx="10" cy="6.200" r="2.400" fill="#f2cc2c"/></svg>
<div class="t" style="left:476.20px;top:756.00px;font-size:9.7px;color:#3a3a3a;">歪歪<span style="font-size:10.8px">Y</span>币</div>
<div class="t" style="left:476.30px;top:776.80px;font-size:6.4px;color:#999;">今日收入</div>
<div class="t" style="left:543.30px;top:776.80px;font-size:6.4px;color:#999;">昨日收入</div>
<div class="t" style="left:475.90px;top:788.90px;font-size:14px;color:#555;">0</div>
<div class="t" style="left:487.29px;top:793.70px;font-size:8.8px;color:#666;">元</div>
<div class="t" style="left:542.90px;top:788.90px;font-size:14px;color:#555;">0</div>
<div class="t" style="left:554.29px;top:793.70px;font-size:8.8px;color:#666;">元</div>
<div class="t" style="left:459.50px;top:820.10px;font-size:7.4px;color:#bdbdbd;">添加账号</div>
<div class="t" style="left:505.10px;top:820.10px;font-size:7.4px;color:#4289c6;">账号管理(1)</div>
<div class="t" style="left:555.30px;top:820.10px;font-size:7.4px;color:#68b370;">正常账号(1)</div>
<div class="a" style="left:634.00px;top:744.30px;width:168.40px;height:90.20px;background:#fff;border:1px solid #f5f5f5;box-shadow:0 0.5px 2px rgba(0,0,0,0.05);border-radius:1px"></div>
<div class="a" style="left:634.60px;top:811.10px;width:167.20px;height:22.80px;background:#fafafa;border-top:1px solid #f0f0f0"></div>
<svg class="a" style="left:640.60px;top:756.50px;" width="12.8" height="9.6" viewBox="0 0 12.800 9.600"><ellipse cx="4.800" cy="5" rx="4.200" ry="4.400" fill="#2a2014"/><path d="M1.200 2.800h7.200v1.600h-7.200zM0.800 5.800h8v1.600h-8z" fill="#e8c02c"/><ellipse cx="4.800" cy="1.600" rx="2.800" ry="1.300" fill="#f2d648"/><circle cx="10" cy="6.200" r="2.400" fill="#f0c030"/></svg>
<div class="t" style="left:661.10px;top:756.00px;font-size:9.7px;color:#3a3a3a;">歪歪陪玩金贝</div>
<div class="t" style="left:661.20px;top:776.80px;font-size:6.4px;color:#999;">今日收入</div>
<div class="t" style="left:728.20px;top:776.80px;font-size:6.4px;color:#999;">昨日收入</div>
<div class="t" style="left:660.80px;top:788.90px;font-size:14px;color:#555;">0</div>
<div class="t" style="left:672.19px;top:793.70px;font-size:8.8px;color:#666;">元</div>
<div class="t" style="left:727.80px;top:788.90px;font-size:14px;color:#555;">0</div>
<div class="t" style="left:739.19px;top:793.70px;font-size:8.8px;color:#666;">元</div>
<div class="t" style="left:644.40px;top:820.10px;font-size:7.4px;color:#bdbdbd;">添加账号</div>
<div class="t" style="left:690.00px;top:820.10px;font-size:7.4px;color:#4289c6;">账号管理(1)</div>
<div class="t" style="left:740.20px;top:820.10px;font-size:7.4px;color:#68b370;">正常账号(1)</div>
<div class="a" style="left:616.00px;top:704.80px;width:8.00px;height:16.40px;background:#fafafa;"></div>
<div class="a" style="left:624.00px;top:704.80px;width:10.00px;height:16.40px;background:#f3f4f5;"></div>
<div class="a" style="left:634.00px;top:704.80px;width:14.00px;height:16.40px;background:#e9eaeb;"></div>
<div class="a" style="left:648.00px;top:704.80px;width:14.00px;height:16.40px;background:#dddddf;"></div>
<div class="a" style="left:662.00px;top:704.80px;width:14.00px;height:16.40px;background:#e2e2e4;"></div>
<div class="a" style="left:676.00px;top:704.80px;width:16.00px;height:16.40px;background:#e8e8e8;"></div>
<div class="a" style="left:692.00px;top:704.80px;width:15.00px;height:16.40px;background:#d6dfe6;"></div>
<div class="a" style="left:707.00px;top:704.80px;width:15.00px;height:16.40px;background:#d9e1e7;"></div>
<div class="a" style="left:722.00px;top:704.80px;width:12.00px;height:16.40px;background:#e5e6e7;"></div>
<div class="a" style="left:734.00px;top:704.80px;width:5.00px;height:16.40px;background:#f4f4f4;"></div>
<div class="a" style="left:620.00px;top:721.20px;width:112.00px;height:2.40px;background:#f1f1f1;"></div>
<div class="a" style="left:820.90px;top:438.40px;width:3.30px;height:42.60px;background:#9a9a9a;"></div>
<div class="a" style="left:820.90px;top:745.80px;width:3.30px;height:42.80px;background:#8c8c8c;"></div>
<div class="a" style="left:774.50px;top:481.00px;width:49.50px;height:265.20px;background:#fff;box-shadow:-0.5px 1px 2px rgba(0,0,0,0.16);border-left:1px solid #cfcfcf;border-bottom:1px solid #d2d2d2"></div>
<div class="a" style="left:775.50px;top:481.00px;width:48.50px;height:20.00px;background:#f1f1ef;"></div>
<svg class="a" style="left:780.00px;top:689.60px;" width="9.2" height="9.2" viewBox="0 0 10 10"><circle cx="5" cy="5" r="4.6" fill="#6e6e76"/><circle cx="3.3" cy="3.8" r="0.8" fill="#fff"/><circle cx="6.7" cy="3.8" r="0.8" fill="#fff"/><path d="M2.4 5.6a2.7 2.7 0 0 0 5.2 0z" fill="#fff"/></svg>
<svg class="a" style="left:796.40px;top:690.00px;" width="11.6" height="8.6" viewBox="0 0 11.6 8.6"><rect x="0.2" y="0.2" width="11.2" height="8.2" rx="1" fill="#6e6e76"/></svg>
<div class="t" style="left:798.00px;top:691.60px;font-size:5px;color:#fff;font-weight:bold;letter-spacing:-0.2px">GIF</div>
<div class="a" style="left:812.60px;top:686.00px;width:11.40px;height:16.00px;background:#e6e6e8;"></div>
<svg class="a" style="left:814.60px;top:689.20px;" width="9.6" height="10" viewBox="0 0 9.6 10"><path d="M0.800 0.400l6.600 7M8.800 0.400l-6.600 7" stroke="#66666e" stroke-width="1.300"/><circle cx="2" cy="8" r="1.600" fill="none" stroke="#66666e" stroke-width="1.100"/><circle cx="7.600" cy="8" r="1.600" fill="none" stroke="#66666e" stroke-width="1.100"/></svg>
<div class="a" style="left:818.00px;top:562.40px;width:4.80px;height:31.00px;background:linear-gradient(#4f4f4f 0%,#5b625d 18%,#47805f 34%,#3f9a63 50%,#49b274 78%,#3d8f5e 100%);border-radius:2.4px"></div>
<div class="a" style="left:818.00px;top:572.00px;width:4.80px;height:20.00px;background:repeating-linear-gradient(rgba(255,255,255,0) 0 1.5px,rgba(20,70,40,0.28) 1.5px 2.1px);border-radius:0 0 2.4px 2.4px"></div>
<div class="a" style="left:4.00px;top:822.00px;width:818.00px;height:20.80px;background:linear-gradient(90deg,#e9e0d8 0%,#eee3dc 30%,#f0e6de 50%,#f1e9e1 64%,#eae3df 74%,#e0dee2 86%,#dbdce5 100%);"></div>
<svg class="a" style="left:12.20px;top:828.80px;" width="9" height="9" viewBox="0 0 9 9"><path d="M0 1.2l3.9-0.6v3.7h-3.9zM4.4 0.55l4.6-0.65v4.4h-4.6zM0 4.8h3.9v3.7l-3.9-0.55zM4.4 4.8h4.6v4.3l-4.6-0.65z" fill="#111"/></svg>
<svg class="a" style="left:38.40px;top:828.90px;" width="9" height="9" viewBox="0 0 9 9"><circle cx="5.6" cy="3.3" r="2.8" fill="none" stroke="#222" stroke-width="0.9"/><path d="M3.6 5.4l-3.2 3.2" stroke="#222" stroke-width="0.9"/></svg>
<svg class="a" style="left:63.60px;top:828.70px;" width="9.4" height="9.4" viewBox="0 0 9.4 9.4"><circle cx="4.7" cy="4.7" r="3.7" fill="none" stroke="#111" stroke-width="1.5"/></svg>
<svg class="a" style="left:88.60px;top:828.70px;" width="9.6" height="9.4" viewBox="0 0 9.6 9.4"><path d="M1.300 0.300v8.800M5.900 0.300v8.800M1.300 2.200h4.600M1.300 7h4.600" fill="none" stroke="#1a1a1a" stroke-width="1"/><path d="M8.700 0.600v8.400" stroke="#333" stroke-width="0.800" stroke-dasharray="1.300 0.900"/></svg>
<svg class="a" style="left:114.20px;top:826.90px;" width="12.8" height="12.8" viewBox="0 0 12.8 12.8"><g fill="#0a0a0a"><path d="M6.4 6.4C2.4 7.4 0.4 4.6 1.6 2.2 3 -0.2 7.4 0 6.400 6.400z"/><path d="M6.400 6.400C5.400 2.400 8.200 0.400 10.600 1.600 13 3 12.800 7.400 6.400 6.400z"/><path d="M6.400 6.400C10.400 5.400 12.400 8.200 11.200 10.600 9.800 13 5.400 12.800 6.400 6.400z"/><path d="M6.400 6.400C7.400 10.400 4.600 12.400 2.200 11.200 -0.200 9.800 0 5.400 6.400 6.400z"/></g><path d="M6.400 1.400v10M1.400 6.400h10" stroke="#e9e1da" stroke-width="0.700"/></svg>
<div class="a" style="left:138.60px;top:841.50px;width:21.60px;height:1.30px;background:#3b8fe0;"></div>
<div class="a" style="left:165.30px;top:841.50px;width:21.60px;height:1.30px;background:#3b8fe0;"></div>
<div class="a" style="left:191.80px;top:841.50px;width:21.60px;height:1.30px;background:#3b8fe0;"></div>
<div class="a" style="left:218.20px;top:841.50px;width:21.60px;height:1.30px;background:#3b8fe0;"></div>
<div class="a" style="left:244.80px;top:841.50px;width:21.60px;height:1.30px;background:#3b8fe0;"></div>
<svg class="a" style="left:143.20px;top:828.30px;" width="12" height="10" viewBox="0 0 12 10"><path d="M0.4 1h4l1 1.2h6.2v7.4h-11.2z" fill="#f5c84a"/><path d="M0.4 3.6h11.2v6h-11.2z" fill="#f9dc7a"/><path d="M2.6 6h6.8v3.6h-6.8z" fill="#5a8fc8"/><path d="M4 7.4h4v2.2h-4z" fill="#e8eef5"/></svg>
<svg class="a" style="left:169.80px;top:827.10px;" width="12.4" height="12.4" viewBox="0 0 12.4 12.4"><circle cx="6.2" cy="6.2" r="6.100" fill="#1877d2"/><path d="M0.300 5.200C1 1.800 4.200 -0.200 7.600 0.300 10.400 0.800 12.200 3 12.300 5.600 11 3.400 8 2.600 5.600 3.800 3.600 4.800 2.800 7 3.400 9.200 1.400 8.600 0.200 7 0.300 5.200z" fill="#36bfa4"/><path d="M6.600 4.200C9 3.600 11.200 4.800 11.600 6.600 11.800 7.800 10.600 8.600 9.200 8.200 8 7.800 7.600 6.800 8 6 6.600 6.400 6 8 6.800 9.400 7.600 10.600 9.600 11 11 10.200 9.800 11.800 7.400 12.400 5.600 11.400 3.400 10.200 3.200 5.400 6.600 4.200z" fill="#0e58a8"/><path d="M7.900 5.700C9.400 5.200 11 5.800 11.300 6.800 11.400 7.500 10.400 7.900 9.400 7.600 8.400 7.300 7.800 6.500 7.900 5.700z" fill="#f2f8fc"/></svg>
<svg class="a" style="left:196.20px;top:827.10px;" width="12.6" height="12.6" viewBox="0 0 12.600 12.600"><circle cx="6.300" cy="6.300" r="6.200" fill="#e34133"/><path d="M6.300 6.300L0.950 3.200A6.200 6.200 0 0 0 6.300 12.500z" fill="#2fa24f"/><path d="M6.300 6.300L6.300 12.500A6.200 6.200 0 0 0 11.650 3.200z" fill="#f8c11b"/><path d="M6.300 6.300L0.950 3.200A6.200 6.200 0 0 1 11.650 3.200z" fill="#e34133"/><circle cx="6.300" cy="6.300" r="2.900" fill="#f4f4f4"/><circle cx="6.300" cy="6.300" r="2" fill="#8fb8f2"/></svg>
<svg class="a" style="left:223.00px;top:827.10px;" width="12.6" height="12.6" viewBox="0 0 12.600 12.600"><circle cx="6.300" cy="6.300" r="6.100" fill="#4db93a"/><path d="M6.300 0.200a6.100 6.100 0 0 1 6.100 6.100l-3 0a3.100 3.100 0 0 0-3.100-3.100z" fill="#f0d21c"/><path d="M6.300 12.400a6.100 6.100 0 0 1-6.100-6.100l3 0a3.100 3.100 0 0 0 3.100 3.100z" fill="#f0d21c"/><circle cx="6.300" cy="6.300" r="3" fill="#fdfdf0"/><path d="M4.600 6.300h3.400M6.300 4.600v3.400" stroke="#2e9a2e" stroke-width="1.300"/></svg>
<div class="a" style="left:242.60px;top:822.00px;width:25.60px;height:20.80px;background:#f2a96f;"></div>
<svg class="a" style="left:248.80px;top:827.90px;" width="11.6" height="10.4" viewBox="0 0 11.600 10.400"><path d="M1 6C1 2 5 0.400 10.800 0.600 10.800 5 9 9.600 4.400 9.400 2.400 9.400 1 8 1 6z" fill="#2fbf6c"/><path d="M2.600 8.400C4 5.400 6.400 3.400 9.400 2" fill="none" stroke="#e8fff0" stroke-width="0.900"/><rect x="7.600" y="3.200" width="3.800" height="3.800" fill="#d9f2e4" opacity="0.900"/></svg>
<div class="a" style="left:269.00px;top:822.00px;width:26.00px;height:20.80px;background:rgba(255,255,255,0.550);"></div>
<div class="a" style="left:269.00px;top:841.50px;width:26.00px;height:1.30px;background:#7fb4e8;"></div>
<svg class="a" style="left:275.20px;top:826.30px;" width="14" height="14" viewBox="0 0 14 14"><circle cx="7" cy="7" r="6.800" fill="#77768a"/><circle cx="7" cy="7" r="6" fill="#8e8c9f"/><circle cx="5.400" cy="5.400" r="2.600" fill="#a9a7b8"/><circle cx="8.400" cy="8.600" r="2.400" fill="#65647a"/></svg>
<svg class="a" style="left:541.60px;top:828.50px;" width="11.6" height="9.6" viewBox="0 0 11.600 9.600"><circle cx="7.600" cy="3" r="2.400" fill="#f7d26a"/><path d="M2.600 9C0.600 9 0 6.600 2 5.800 2.200 3.400 5.400 2.800 6.600 4.800 8.800 4.200 10.200 6 9.400 7.600 9 8.600 8.200 9 7.400 9z" fill="#cfe6f7" stroke="#a9cde8" stroke-width="0.500"/></svg>
<div class="t" style="left:557.40px;top:829.40px;font-size:8px;color:#1c1c1c;">26°C</div>
<div class="t" style="left:580.00px;top:829.60px;font-size:7.5px;color:#1c1c1c;">多云</div>
<svg class="a" style="left:604.00px;top:830.70px;" width="7.6" height="5" viewBox="0 0 7.600 5"><path d="M0.500 4.400l3.300-3.600 3.300 3.600" fill="none" stroke="#333" stroke-width="0.900"/></svg>
<svg class="a" style="left:615.80px;top:828.70px;" width="8.6" height="9.2" viewBox="0 0 8.600 9.200"><circle cx="4.300" cy="4.600" r="3.700" fill="#fcfcf6" stroke="#b89a4a" stroke-width="0.800"/><path d="M2.600 5.400a1.800 1.800 0 0 0 3.400 0" fill="none" stroke="#777" stroke-width="0.600"/><circle cx="3" cy="3.600" r="0.500" fill="#555"/><circle cx="5.600" cy="3.600" r="0.500" fill="#555"/></svg>
<svg class="a" style="left:629.80px;top:828.10px;" width="6.4" height="10.4" viewBox="0 0 6.400 10.400"><rect x="0.200" y="0.200" width="6" height="10" rx="3" fill="#2d8fe6"/><path d="M1.800 3.400l2.800 3.200-1.400 1.400v-5.600l1.400 1.400-2.800 3.200" fill="none" stroke="#fff" stroke-width="0.600"/></svg>
<svg class="a" style="left:641.20px;top:828.80px;" width="9" height="9" viewBox="0 0 9 9"><circle cx="4.500" cy="4.500" r="4.400" fill="#46b83a"/><path d="M4.500 0.100a4.400 4.400 0 0 1 4.400 4.400h-2a2.400 2.400 0 0 0-2.400-2.400z" fill="#e8d820"/><circle cx="4.500" cy="4.500" r="2" fill="#f4fbe8"/><path d="M3.400 4.500h2.200" stroke="#2e9a2e" stroke-width="1"/></svg>
<svg class="a" style="left:655.00px;top:831.10px;" width="8.4" height="4.8" viewBox="0 0 8.400 4.800"><rect x="0.300" y="0.300" width="7.200" height="4.200" fill="#fff" stroke="#111" stroke-width="0.600"/><rect x="0.300" y="0.300" width="4.200" height="4.200" fill="#111"/><rect x="7.600" y="1.400" width="0.800" height="2" fill="#111"/></svg>
<svg class="a" style="left:666.60px;top:829.30px;" width="9.4" height="8.4" viewBox="0 0 9.400 8.400"><rect x="2.400" y="0.400" width="6.600" height="5" fill="#f4f4f4" stroke="#222" stroke-width="0.700"/><path d="M4 7.600h3.600M5.800 5.400v2.200M0.400 2v4h2" fill="none" stroke="#222" stroke-width="0.700"/></svg>
<div class="t" style="left:680.00px;top:829.60px;font-size:7.5px;color:#8a8a8a;">中</div>
<svg class="a" style="left:694.80px;top:829.10px;" width="8.8" height="8.4" viewBox="0 0 8.800 8.400"><rect x="0.200" y="0.200" width="8.400" height="8" rx="2.200" fill="#f0672a"/><path d="M6.400 2.400h-3.200q-1 0-1 0.900t1 0.900h2.400q1 0 1 0.900t-1 0.900h-3.400" fill="none" stroke="#fff" stroke-width="0.900"/></svg>
<div class="t" style="left:713.40px;top:826.10px;font-size:6.6px;color:#1c1c1c;">20:30 周六</div>
<div class="t" style="left:716.00px;top:833.40px;font-size:6.6px;color:#1c1c1c;">2021/7/3</div>
<div class="a" style="left:746.00px;top:824.10px;width:2.00px;height:2.00px;background:#e0242c;border-radius:50%"></div>
<svg class="a" style="left:755.00px;top:828.30px;" width="13.6" height="11" viewBox="0 0 13.600 11"><rect x="0" y="0" width="9" height="8.600" fill="#2a2024"/><rect x="1.400" y="1.600" width="5" height="2" fill="#7a6468"/><rect x="6" y="4" width="7.600" height="7" fill="#e0202c"/><rect x="8.600" y="6.400" width="2.400" height="2.200" fill="#f7b0b0"/></svg>
<svg class="a" style="left:777.40px;top:828.70px;" width="15" height="9.4" viewBox="0 0 15 9.4"><path d="M1 0.600v8.200" stroke="#15151c" stroke-width="1.700"/><path d="M4.400 8.800v-8l3.300 4.600 3.400-5.200v3" fill="none" stroke="#15151c" stroke-width="1.300"/></svg>
<svg class="a" style="left:786.00px;top:832.90px;" width="8.2" height="7" viewBox="0 0 8.200 7"><ellipse cx="4.100" cy="3.500" rx="3.900" ry="3.300" fill="#fff" stroke="#555" stroke-width="0.500"/></svg>
<div class="t" style="left:788.70px;top:833.60px;font-size:6px;color:#111;font-weight:bold">1</div>
<svg class="a" style="left:802.40px;top:829.30px;" width="8.8" height="8.4" viewBox="0 0 8.800 8.400"><path d="M0.500 0.500h7.800v5.600h-2.600l-1.300 1.600-1.300-1.600h-2.600z" fill="none" stroke="#333" stroke-width="0.700"/></svg>
<div class="a" style="left:824.20px;top:0.00px;width:5.00px;height:830.00px;background:#fff;"></div>
</body></html>
